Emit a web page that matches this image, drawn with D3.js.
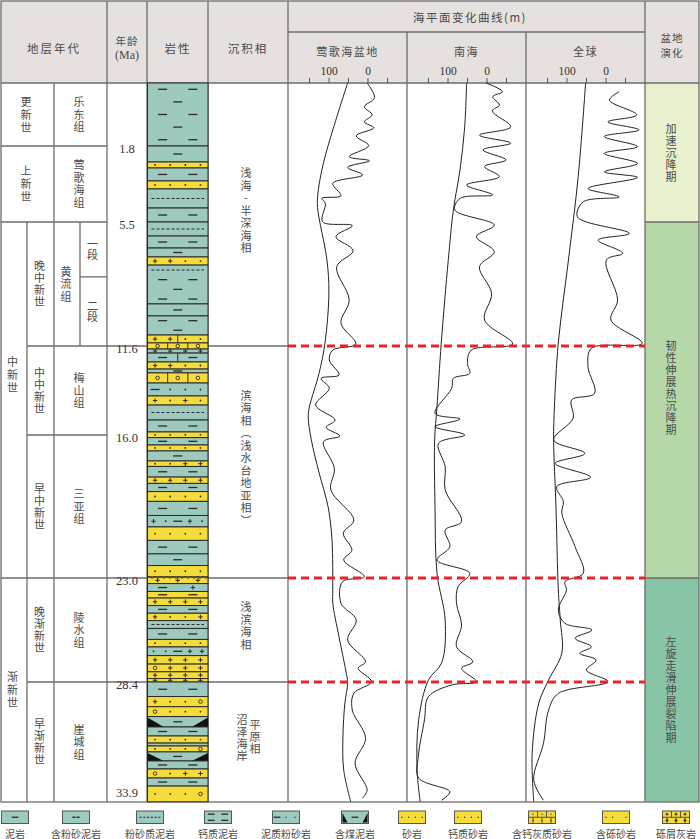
<!DOCTYPE html>
<html><head><meta charset="utf-8">
<script src="https://cdn.jsdelivr.net/npm/d3@7/dist/d3.min.js"></script>
<style>
html,body{margin:0;padding:0;background:#fff;}
svg{display:block;}
</style></head>
<body><svg id="chart" width="700" height="839"></svg>
<script>
// ================= DATA =================
const ageTicks = [1.8, 5.5, 11.6, 16.0, 23.0, 28.4, 33.9];
const baseAge = 34.5;
const seaTicks = [150, 100, 50, 0, -50];
const seaTickLabels = [100, 0];
const seaRegions = ["莺歌海盆地", "南海", "全球"];
const keyBoundaries = [11.6, 23.0, 28.4];

const epochs = [["更新世", 0, 1.8], ["上新世", 1.8, 5.5], ["中新世", 5.5, 23.0], ["渐新世", 23.0, 34.5]];
const subEpochs = [["晚中新世", 5.5, 11.6], ["中中新世", 11.6, 16.0], ["早中新世", 16.0, 23.0], ["晚渐新世", 23.0, 28.4], ["早渐新世", 28.4, 34.5]];
const formations = [["乐东组", 0, 1.8], ["莺歌海组", 1.8, 5.5], ["黄流组", 5.5, 11.6], ["梅山组", 11.6, 16.0], ["三亚组", 16.0, 23.0], ["陵水组", 23.0, 28.4], ["崖城组", 28.4, 34.5]];
const members = [["一段", 5.5, 8.2], ["二段", 8.2, 11.6]];
const facies = [["浅海-半深海相", 0, 11.6], ["滨海相（浅水台地亚相）", 11.6, 23.0], ["浅滨海相", 23.0, 28.4], ["沼泽海岸|平原相", 28.4, 34.5]];
const basinStages = [["加速沉降期", 0, 5.5], ["韧性伸展热沉降期", 5.5, 23.0], ["左旋走滑伸展裂陷期", 23.0, 34.5]];

// lithology: [top Ma, bottom Ma, kind (m mud / s sand / c coal mud), symbols, dividers]
const lithLayers = [
 [0,1.8,"m","--/-/--/-/--",0],[1.8,2.58,"m","-",0],[2.58,2.87,"s","....",0],[2.87,3.5,"m","--",0],
 [3.5,3.89,"s","....",0],[3.89,4.82,"m","~",0],[4.82,5.5,"m","--",0],[5.5,6.19,"m","~",0],
 [6.19,6.78,"m","--",0],[6.78,7.22,"m","-",0],[7.22,7.62,"s","++..",0],[7.62,9.53,"m","~/--/-/--",0],
 [9.53,10.12,"m","-",0],[10.12,11.06,"m","--/-",0],[11.06,11.45,"s","++..",1],[11.45,11.75,"s","ooo",2],
 [11.75,11.95,"m","++++",0],[11.95,12.39,"m","--",1],[12.39,12.74,"s","++..",0],[12.74,12.93,"m","-",0],
 [12.93,13.43,"s","ooo",2],[13.43,14.07,"m","-...",0],[14.07,14.52,"s","+.+.",0],[14.52,15.26,"m","~",0],
 [15.26,15.85,"m","--",0],[15.85,16.13,"s","....",0],[16.13,16.49,"m","--",0],[16.49,16.78,"s","....",0],
 [16.78,17.27,"m","-",0],[17.27,17.54,"s","..++",0],[17.54,18.06,"m","--",0],[18.06,18.37,"s","++++",0],
 [18.37,18.77,"m","--",0],[18.77,19.25,"s","....",0],[19.25,19.94,"m","--",0],[19.94,20.5,"m","+.-+.",0],
 [20.5,21.16,"s","....",0],[21.16,21.82,"m","--",0],[21.82,22.39,"m","-",0],[22.39,22.95,"s","....",0],
 [22.95,23.29,"s","+++",0],[23.29,23.7,"m","-+",0],[23.7,24.04,"s","--",0],[24.04,24.43,"s","++++",0],
 [24.43,24.83,"m","--",0],[24.83,25.21,"s","+..+",0],[25.21,25.62,"m","~",0],[25.62,26.19,"m","--",0],
 [26.19,26.58,"s","....",0],[26.58,27.03,"m","..-++",0],[27.03,27.47,"s","++++",0],[27.47,27.87,"s","o+++",0],
 [27.87,28.22,"s","++++",0],[28.22,28.4,"s","++++",0],[28.4,29.14,"m","--",0],[29.14,29.66,"s","+..o",0],
 [29.66,30.16,"s","o...",0],[30.16,30.69,"c","-",0],[30.69,31.15,"m","--",0],[31.15,31.51,"s","....",0],
 [31.51,31.66,"m","",0],[31.66,31.96,"s","...o",0],[31.96,32.42,"c","-",0],[32.42,32.83,"m","--",0],
 [32.83,33.29,"s","o.++",0],[33.29,33.7,"m","--",0],[33.7,34.5,"s","...o",0]
];

// sea-level curves: [age Ma, sea level m]
const yinggehaiLong = [[0,51],[2.48,111],[4.09,127],[4.8,128],[7.37,104],[8.99,99],[11.45,109],[12.93,124],[14.62,149],[15.11,152],[16.24,144],[17.86,124],[19.52,101],[21.14,91],[23.62,89],[24.3,89],[26.06,73],[27.78,56],[28.45,51],[29.47,58],[31.2,63],[32.88,61],[34.5,43]];
const yinggehaiShort = [[0,1],[0.42,-18],[0.68,8],[0.91,-12],[1.11,8],[1.28,-16],[1.51,29],[1.79,-3],[2.32,47],[2.52,-5],[2.84,51],[3.21,13],[3.62,89],[4.22,68],[4.35,117],[4.59,108],[5.49,115],[5.68,39],[6.22,81],[6.91,37],[7.7,79],[9.34,47],[10.48,68],[11.5,30],[11.8,89],[12.29,98],[13.03,73],[13.2,119],[13.69,98],[14.52,133],[15.26,83],[15.62,106],[16.05,71],[16.33,113],[17.63,85],[18.69,94],[20.16,35],[20.81,62],[21.64,40],[22.12,61],[22.94,8],[23.19,64],[24.31,68],[25.18,29],[26.22,51],[27.35,5],[27.69,24],[28.38,-10],[28.98,35],[29.83,39],[31.27,5],[32.54,32],[33.9,1],[34.32,13]];
const nanhaiLong = [[0,51],[1.26,56],[2.97,68],[4.92,85],[7.37,98],[11.45,116],[14.62,127],[16.24,133],[19.52,132],[22.76,127],[25.18,106],[27.41,115],[28.3,149],[30.33,174],[32.88,178],[34.5,170]];
const nanhaiShort = [[0,1],[0.25,-41],[0.39,-16],[0.63,-33],[0.8,-15],[1.25,-62],[1.49,18],[1.72,-62],[1.99,9],[2.48,-50],[2.8,5],[3.29,-33],[3.7,51],[4.18,-16],[4.35,68],[4.92,81],[5.65,-20],[6.22,26],[6.96,-20],[7.7,18],[9.01,-13],[10.32,5],[11.5,-67],[11.8,39],[12.46,49],[12.95,43],[13.2,85],[13.69,89],[14.93,132],[15.21,68],[15.59,132],[16.0,56],[16.41,123],[17.55,106],[18.69,106],[20.24,64],[20.65,106],[21.47,94],[22.12,127],[22.77,43],[23.45,73],[24.31,77],[25.44,64],[26.57,77],[27.35,35],[27.69,64],[28.38,26],[28.55,89],[29.15,149],[30.33,159],[32.2,175],[33.29,174],[33.99,94],[34.42,115]];
const globalLong = [[0,51],[3.29,70],[7.37,95],[11.45,121],[14.62,131],[16.24,133],[19.52,127],[23.62,121],[25.18,116],[26.89,112],[28.3,146],[29.47,171],[32.02,188],[34.5,184]];
const globalShort = [[0.25,-35],[0.49,-10],[0.91,-80],[1.11,-6],[1.34,-86],[1.53,3],[1.83,-82],[2.16,3],[2.65,-82],[3.06,3],[3.33,-82],[3.87,45],[4.28,-35],[4.52,57],[5.25,72],[6.06,-61],[6.39,19],[7.04,-44],[7.37,-2],[9.34,-31],[10.32,-14],[11.47,-94],[11.71,36],[12.62,45],[13.94,28],[14.27,87],[15.17,83],[16.24,133],[16.9,53],[17.39,129],[18.07,38],[18.53,125],[19.26,108],[19.83,112],[21.47,78],[22.77,57],[23.19,104],[23.62,100],[24.66,121],[25.35,104],[25.7,35],[26.13,78],[26.57,36],[26.91,66],[27.26,24],[27.78,49],[28.38,-6],[28.98,121],[29.83,146],[31.52,159],[33.4,184],[34.42,159]];

const legendNames = ["泥岩","含粉砂泥岩","粉砂质泥岩","钙质泥岩","泥质粉砂岩","含煤泥岩","砂岩","钙质砂岩","含钙灰质砂岩","含砾砂岩","砾屑灰岩"];
const legendKinds = ["m","m","m","m","m","c","s","s","s","s","s"];
const legendSymbols = ["-","=","~","--/--","-..","-","....","....","...",".. .","+++"];
const legendBrick = [0,0,0,0,0,0,0,0,1,0,1];

// ================= LAYOUT / STYLE =================
const COL = {left:1, e1:27, e2:54, f2:80, age:107, lith:147, lithR:208, fac:288, s2:407, s3:526, basin:645, right:699};
const ROW = {top:1, sub:32, head:83, bottom:802};
const INK = "#4a4a4a", GRID = "#6c6c6c", DARK = "#2a2a2a";
const CJK = "'Noto Sans CJK SC','Noto Sans',sans-serif", SERIF = "'Liberation Serif','DejaVu Serif',serif";
const FILL = {m:"#9dc9be", c:"#9dc9be", s:"#f6dc3a"};
const BASIN_FILL = ["#e9f1cf","#b6d7a8","#88c5a7"];
const legendCx = [15,76,150,218,286,355,412,468,542,616,676];

const svg = d3.select("#chart");
const y = d3.scaleLinear().domain([0, ...ageTicks]).range([83,146,222,346,435,578,682,790]);

// header background
svg.append("rect").attr("x",COL.left).attr("y",ROW.top).attr("width",COL.right-COL.left).attr("height",ROW.head-ROW.top).attr("fill","#e6e0de");

// basin stage fills
basinStages.forEach((d,i)=>{
  svg.append("rect").attr("x",COL.basin).attr("y",y(d[1])).attr("width",COL.right-COL.basin).attr("height",y(d[2])-y(d[1])).attr("fill",BASIN_FILL[i]);
});

// ---------- grid lines ----------
const grid = svg.append("g").attr("stroke",GRID).attr("stroke-width",1.3).attr("fill","none");
function hl(x1,x2,yy){grid.append("line").attr("x1",x1).attr("x2",x2).attr("y1",yy).attr("y2",yy);}
function vl(xx,y1,y2){grid.append("line").attr("x1",xx).attr("x2",xx).attr("y1",y1).attr("y2",y2);}
[1.8,5.5].forEach(a=>hl(COL.left,COL.age,y(a)));
hl(COL.left,COL.fac,y(23.0));
[11.6,28.4].forEach(a=>hl(COL.e1,COL.fac,y(a)));
hl(COL.e1,COL.age,y(16.0));
hl(COL.f2,COL.age,y(members[0][2]));
hl(COL.basin,COL.right,y(5.5)); hl(COL.basin,COL.right,y(23.0));
vl(COL.e1,y(5.5),ROW.bottom);
vl(COL.e2,ROW.head,ROW.bottom);
vl(COL.f2,y(5.5),y(11.6));
[COL.age,COL.lith,COL.lithR,COL.fac,COL.basin].forEach(xx=>vl(xx,ROW.top,ROW.bottom));
[COL.s2,COL.s3].forEach(xx=>vl(xx,ROW.sub,ROW.bottom));
hl(COL.fac,COL.basin,ROW.sub);
hl(COL.left,COL.right,ROW.head);
grid.append("rect").attr("x",COL.left).attr("y",ROW.top).attr("width",COL.right-COL.left).attr("height",ROW.bottom-ROW.top);

// ---------- lithology ----------
const lithG = svg.append("g");
function drawSymbols(g, x0, w, yT, h, sym, s){
  if(!sym) return;
  const rows = sym.split("/");
  rows.forEach((row,j)=>{
    const yy = yT + (j+0.5)/rows.length*h;
    if(row==="~"){
      g.append("line").attr("x1",x0+4*s).attr("x2",x0+w-4*s).attr("y1",yy).attr("y2",yy)
        .attr("stroke",DARK).attr("stroke-width",1.1).attr("stroke-dasharray",`${3*s},${2*s}`);
      return;
    }
    const ch = Array.from(row);
    ch.forEach((c,i)=>{
      const xx = x0 + (i+0.5)/ch.length*w;
      if(c==="-"){
        g.append("line").attr("x1",xx-4.5*s).attr("x2",xx+4.5*s).attr("y1",yy).attr("y2",yy).attr("stroke",DARK).attr("stroke-width",1.3);
      } else if(c==="="){
        g.append("line").attr("x1",xx-5*s).attr("x2",xx-0.6*s).attr("y1",yy).attr("y2",yy).attr("stroke",DARK).attr("stroke-width",1.3);
        g.append("line").attr("x1",xx+0.6*s).attr("x2",xx+5*s).attr("y1",yy).attr("y2",yy).attr("stroke",DARK).attr("stroke-width",1.3);
      } else if(c==="."){
        g.append("circle").attr("cx",xx).attr("cy",yy).attr("r",0.9*s).attr("fill",DARK);
      } else if(c==="+"){
        g.append("path").attr("d",`M${xx-2.2*s},${yy}H${xx+2.2*s}M${xx},${yy-2.2*s}V${yy+2.2*s}`).attr("stroke",DARK).attr("stroke-width",1);
      } else if(c==="o"){
        g.append("circle").attr("cx",xx).attr("cy",yy).attr("r",1.8*s).attr("fill","none").attr("stroke",DARK).attr("stroke-width",0.9);
      }
    });
  });
}
function drawCell(g, x0, w, yT, h, kind, sym, div, s){
  g.append("rect").attr("x",x0).attr("y",yT).attr("width",w).attr("height",h)
    .attr("fill",FILL[kind]).attr("stroke",DARK).attr("stroke-width",1);
  if(kind==="c"){
    const tw = w*0.27;
    g.append("path").attr("d",`M${x0},${yT+1}L${x0},${yT+h}L${x0+tw},${yT+h}Z M${x0+w},${yT+1}L${x0+w},${yT+h}L${x0+w-tw},${yT+h}Z`).attr("fill","#111");
  }
  for(let k=1;k<=div;k++){
    const xx = x0 + k/(div+1)*w;
    g.append("line").attr("x1",xx).attr("x2",xx).attr("y1",yT).attr("y2",yT+h).attr("stroke",DARK).attr("stroke-width",1);
  }
  drawSymbols(g,x0,w,yT,h,sym,s);
}
lithLayers.forEach(d=>{
  drawCell(lithG, COL.lith+0.5, COL.lithR-COL.lith-0.5, y(d[0]), y(d[1])-y(d[0]), d[2], d[3], d[4], 1);
});
// unconformity wavy line at 23.0 Ma
(function(){
  const yy = y(23.0)-0.5; let p = `M${COL.lith+0.5},${yy}`;
  for(let xx=COL.lith+0.5; xx<COL.lithR-1; xx+=6){ p += ` q1.5,-1.6 3,0 q1.5,1.6 3,0`; }
  lithG.append("path").attr("d",p).attr("fill","none").attr("stroke",DARK).attr("stroke-width",0.9);
})();

// ---------- sea level curves ----------
const seriesSets = [[yinggehaiLong,yinggehaiShort],[nanhaiLong,nanhaiShort],[globalLong,globalShort]];
const colLefts = [COL.fac, COL.s2, COL.s3];
colLefts.forEach((L,i)=>{
  const x = d3.scaleLinear().domain([150,-50]).range([L+21, L+99]);
  const line = d3.line().x(d=>x(d[1])).y(d=>y(d[0])).curve(d3.curveCatmullRom.alpha(0.5));
  seriesSets[i].forEach(s=>{
    svg.append("path").datum(s).attr("d",line).attr("fill","none").attr("stroke","#222").attr("stroke-width",1);
  });
  const ax = svg.append("g").attr("transform",`translate(0,${ROW.head})`)
    .call(d3.axisTop(x).tickValues(seaTicks).tickSize(5).tickPadding(3).tickFormat(d=>seaTickLabels.includes(d)?d:""));
  ax.select(".domain").remove();
  ax.selectAll(".tick line").attr("stroke","#555");
  ax.selectAll(".tick text").attr("font-family",SERIF).attr("font-size",11.5).attr("fill","#333");
  svg.append("text").attr("x",L+59.5).attr("y",51).attr("text-anchor","middle").attr("dominant-baseline","central")
    .attr("font-family",CJK).attr("font-size",11).attr("letter-spacing",1.5).attr("fill",INK).text(seaRegions[i]);
});
// key boundary red dashed lines
keyBoundaries.forEach(a=>{
  svg.append("line").attr("x1",COL.fac).attr("x2",COL.basin).attr("y1",y(a)).attr("y2",y(a))
    .attr("stroke","#e8232a").attr("stroke-width",3).attr("stroke-dasharray","8,5");
});

// ---------- texts ----------
const txt = svg.append("g").attr("font-family",CJK).attr("fill",INK);
function htext(x,yy,str,size,extra){
  const t = txt.append("text").attr("x",x).attr("y",yy).attr("text-anchor","middle").attr("dominant-baseline","central").attr("font-size",size||11).text(str);
  if(extra) extra(t);
  return t;
}
function vtext(x,yc,str,step,size){
  size = size||11; step = step||12.5;
  const ls = step-size;
  txt.append("text").attr("x",x).attr("y",yc+ls/2).attr("text-anchor","middle").attr("dominant-baseline","central")
    .attr("font-size",size).attr("letter-spacing",ls)
    .style("writing-mode","vertical-rl").style("text-orientation","upright").text(str);
}
// headers
htext(54,48,"地层年代",11.5,t=>t.attr("letter-spacing",2));
htext(127,40.5,"年龄",10.5,t=>t.attr("letter-spacing",1));
htext(127,55,"(Ma)",12,t=>t.attr("font-family",SERIF));
htext(178,48,"岩性",11.5,t=>t.attr("letter-spacing",2));
htext(248,48,"沉积相",11.5,t=>t.attr("letter-spacing",2));
htext(470,17,"海平面变化曲线(m)",11.5,t=>t.attr("letter-spacing",1.5));
htext(672,37.5,"盆地",10.5,t=>t.attr("letter-spacing",1));
htext(672,52.5,"演化",10.5,t=>t.attr("letter-spacing",1));

const mid = d=>(y(d[1])+y(d[2]))/2;
epochs.forEach(d=>{ const wide = d[1]<5.5; vtext(wide?26:12.5, mid(d)-(d[0]==="中新世"?25:0), d[0], 13); });
subEpochs.forEach(d=>vtext(39.5,mid(d),d[0],12));
formations.forEach(d=>vtext(d[0]==="黄流组"?66:79,mid(d),d[0],12.5));
members.forEach(d=>vtext(92.5,mid(d),d[0],11.5));
facies.forEach(d=>{
  const parts = d[0].split("|");
  if(parts.length===1) vtext(246,mid(d)-4,parts[0],12.5);
  else { vtext(242,mid(d)-4,parts[0],12); vtext(255,mid(d)-5,parts[1],12); }
});
basinStages.forEach(d=>vtext(671,mid(d)-(d[0].startsWith("韧")?12:0),d[0],12));

// age labels
ageTicks.forEach(a=>{
  svg.append("text").attr("x",127).attr("y",y(a)+3).attr("text-anchor","middle").attr("dominant-baseline","central")
    .attr("font-family",SERIF).attr("font-size",12.5).attr("fill","#333").text(a.toFixed(1));
});

// ---------- legend ----------
const lg = svg.append("g");
legendNames.forEach((n,i)=>{
  const cx = legendCx[i], w = 27, h = 12.5, x0 = cx-w/2, y0 = 811;
  lg.append("rect").attr("x",x0).attr("y",y0).attr("width",w).attr("height",h).attr("fill",FILL[legendKinds[i]]).attr("stroke","#555").attr("stroke-width",1);
  if(legendKinds[i]==="c"){
    lg.append("path").attr("d",`M${x0+1},${y0+2}L${x0+6},${y0+h-1}L${x0+w-6},${y0+h-1}L${x0+w-1},${y0+2}L${x0+w-1},${y0+h-1}L${x0+1},${y0+h-1}Z`).attr("fill","#111");
  }
  if(legendBrick[i]){
    const g = lg.append("g").attr("stroke","#333").attr("stroke-width",0.8);
    g.append("line").attr("x1",x0).attr("x2",x0+w).attr("y1",y0+h/2).attr("y2",y0+h/2);
    [1/3,2/3].forEach(f=>g.append("line").attr("x1",x0+f*w).attr("x2",x0+f*w).attr("y1",y0).attr("y2",y0+h/2));
    [1/6,1/2,5/6].forEach(f=>g.append("line").attr("x1",x0+f*w).attr("x2",x0+f*w).attr("y1",y0+h/2).attr("y2",y0+h));
    drawSymbols(lg,x0,w,y0,h,legendSymbols[i]+"/"+legendSymbols[i],0.7);
  } else {
    drawSymbols(lg,x0,w,y0,h,legendSymbols[i],0.75);
  }
  lg.append("text").attr("x",cx).attr("y",833).attr("text-anchor","middle").attr("dominant-baseline","central")
    .attr("font-family",CJK).attr("font-size",10).attr("fill",INK).text(n);
});
</script>
</body></html>
